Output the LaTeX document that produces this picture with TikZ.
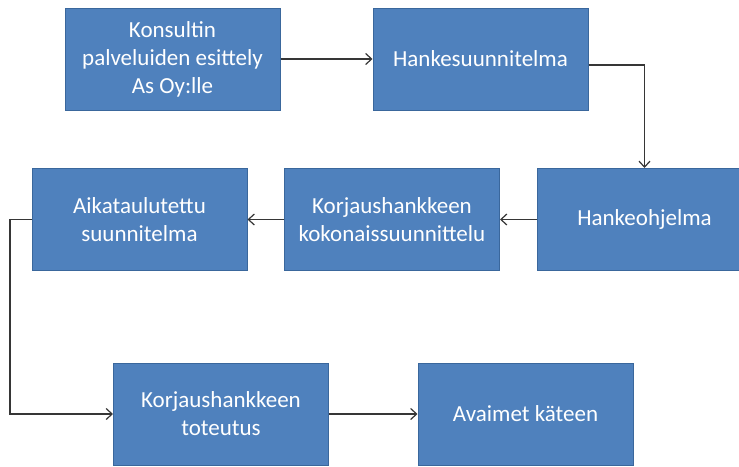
\documentclass[tikz,border=0pt]{standalone}
\usepackage{fontspec}
\setmainfont{Carlito}
\usetikzlibrary{arrows.meta}
\definecolor{boxfill}{HTML}{4F81BD}
\definecolor{boxline}{HTML}{3A679C}
\definecolor{wire}{HTML}{363636}
\begin{document}
\begin{tikzpicture}[x=1pt,y=-1pt,
  stepbox/.style={draw=boxline, line width=1pt, fill=boxfill, text=white,
    minimum width=215pt, minimum height=102pt, inner sep=0pt, align=center,
    font=\fontsize{23}{28}\selectfont},
  link/.style={draw=wire, line width=1.2pt,
    -{Straight Barb[length=6pt,width=11pt,line width=1.2pt]}}]
\clip (0,0) rectangle (739,466);
\fill[white] (0,0) rectangle (739,466);

% process steps
\node[stepbox] (b1) at (172.5,59) {Konsultin\\palveluiden esittely\\As Oy:lle};
\node[stepbox] (b2) at (480.5,59) {Hankesuunnitelma};
\node[stepbox] (b3) at (644.5,219.5) {Hankeohjelma};
\node[stepbox] (b4) at (392,219.5) {Korjaushankkeen\\kokonaissuunnittelu};
\node[stepbox] (b5) at (139.5,219.5) {Aikataulutettu\\suunnitelma};
\node[stepbox] (b6) at (221,414) {Korjaushankkeen\\toteutus};
\node[stepbox] (b7) at (525.5,414) {Avaimet käteen};

% connectors
\coordinate (turn) at (10,0);
\draw[link] (b1) -- (b2);
\draw[link] ([yshift=-6pt]b2.east) -| (b3.north);
\draw[link] (b3) -- (b4);
\draw[link] (b4) -- (b5);
\draw[link] (b5.west) -- (b5.west -| turn) |- (b6.west);
\draw[link] (b6) -- (b7);
\end{tikzpicture}
\end{document}
